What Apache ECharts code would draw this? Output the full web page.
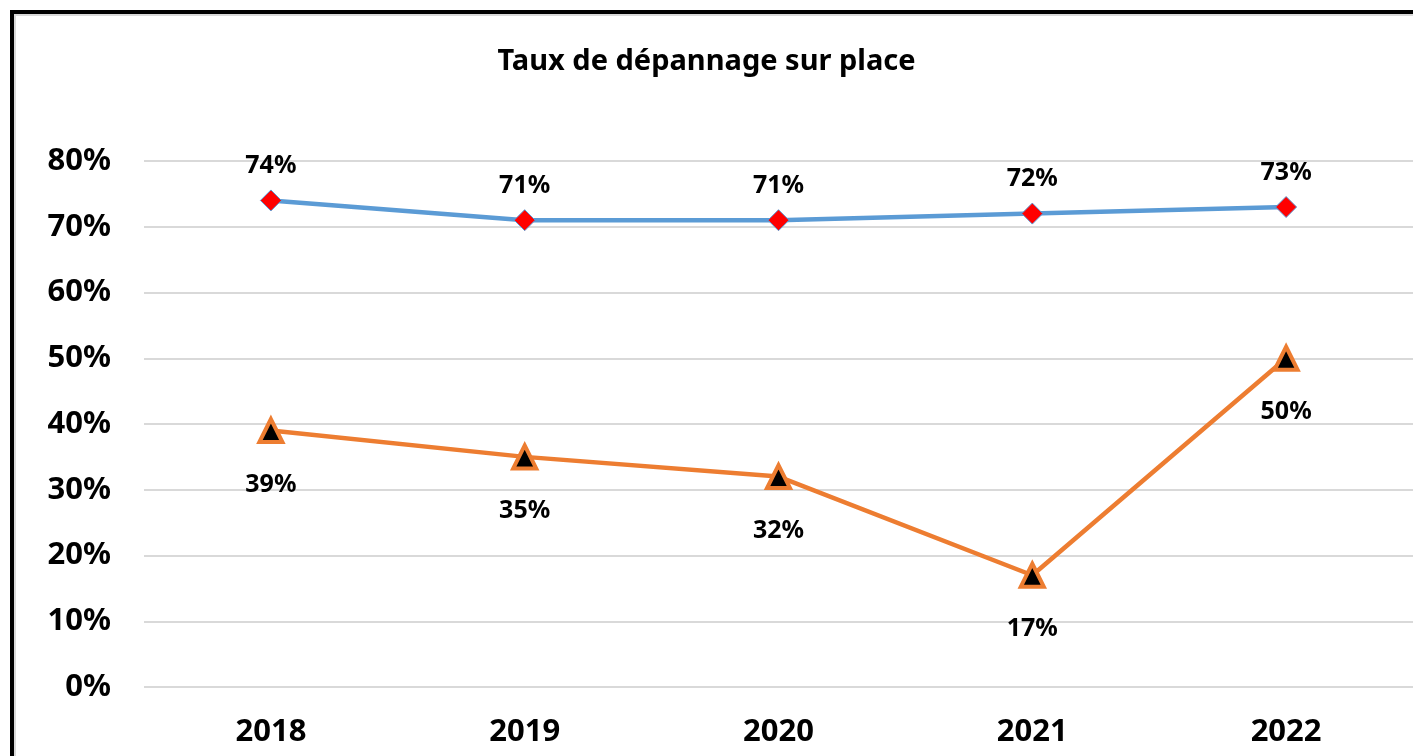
<!DOCTYPE html>
<html>
<head>
<meta charset="UTF-8">
<script src="https://cdn.jsdelivr.net/npm/echarts@6/dist/echarts.min.js"></script>
<style>
  body { margin: 0; background: #fff; overflow: hidden; }
  #frame { position: absolute; left: 10px; top: 10px; width: 1500px; height: 900px;
           border: 4px solid #000; box-shadow: inset 2px 2px 0 #d9d9d9; }
  #main { position: absolute; left: 0; top: 0; width: 1413px; height: 756px; }
</style>
</head>
<body>
<div id="frame"></div>
<div id="main"></div>
<script>
var years = ['2018', '2019', '2020', '2021', '2022'];
var serieBleue = [0.74, 0.71, 0.71, 0.72, 0.73];
var serieOrange = [0.39, 0.35, 0.32, 0.17, 0.50];

var police = '"Noto Sans", "DejaVu Sans", sans-serif';
function pct(v) { return Math.round(v * 100) + '%'; }

var myChart = echarts.init(document.getElementById('main'));
var option = {
    animation: false,
    title: {
        text: 'Taux de dépannage sur place',
        left: 'center',
        top: 42,
        textStyle: { fontFamily: police, fontWeight: 'bold', fontSize: 29, color: '#000' }
    },
    grid: { left: 144, right: -1, top: 161, bottom: 69 },
    xAxis: {
        type: 'category',
        data: years,
        axisLine: { show: false },
        axisTick: { show: false },
        axisLabel: { margin: 30, fontFamily: police, fontWeight: 'bold', fontSize: 31, color: '#000' }
    },
    yAxis: {
        type: 'value',
        min: 0,
        max: 0.8,
        interval: 0.1,
        axisLine: { show: false },
        axisTick: { show: false },
        splitLine: { lineStyle: { color: '#d9d9d9', width: 2 } },
        axisLabel: {
            margin: 33,
            fontFamily: police, fontWeight: 'bold', fontSize: 31, color: '#000',
            formatter: function (v) { return Math.round(v * 100) + '%'; }
        }
    },
    series: [{
        type: 'line',
        data: serieBleue,
        symbol: 'diamond',
        symbolSize: 21,
        lineStyle: { color: '#5b9bd5', width: 4.5 },
        itemStyle: { color: '#ff0000', borderColor: '#5b9bd5', borderWidth: 1 },
        label: {
            show: true, position: 'top', distance: 11,
            fontFamily: police, fontWeight: 'bold', fontSize: 25, color: '#000',
            formatter: function (p) { return pct(p.value); }
        }
    }, {
        type: 'line',
        data: serieOrange,
        symbol: 'triangle',
        symbolSize: 23,
        lineStyle: { color: '#ed7d31', width: 4.5 },
        itemStyle: { color: '#000', borderColor: '#ed7d31', borderWidth: 4 },
        label: {
            show: true, position: 'bottom', distance: 28,
            fontFamily: police, fontWeight: 'bold', fontSize: 25, color: '#000',
            formatter: function (p) { return pct(p.value); }
        }
    }]
};
myChart.setOption(option);
</script>
</body>
</html>
